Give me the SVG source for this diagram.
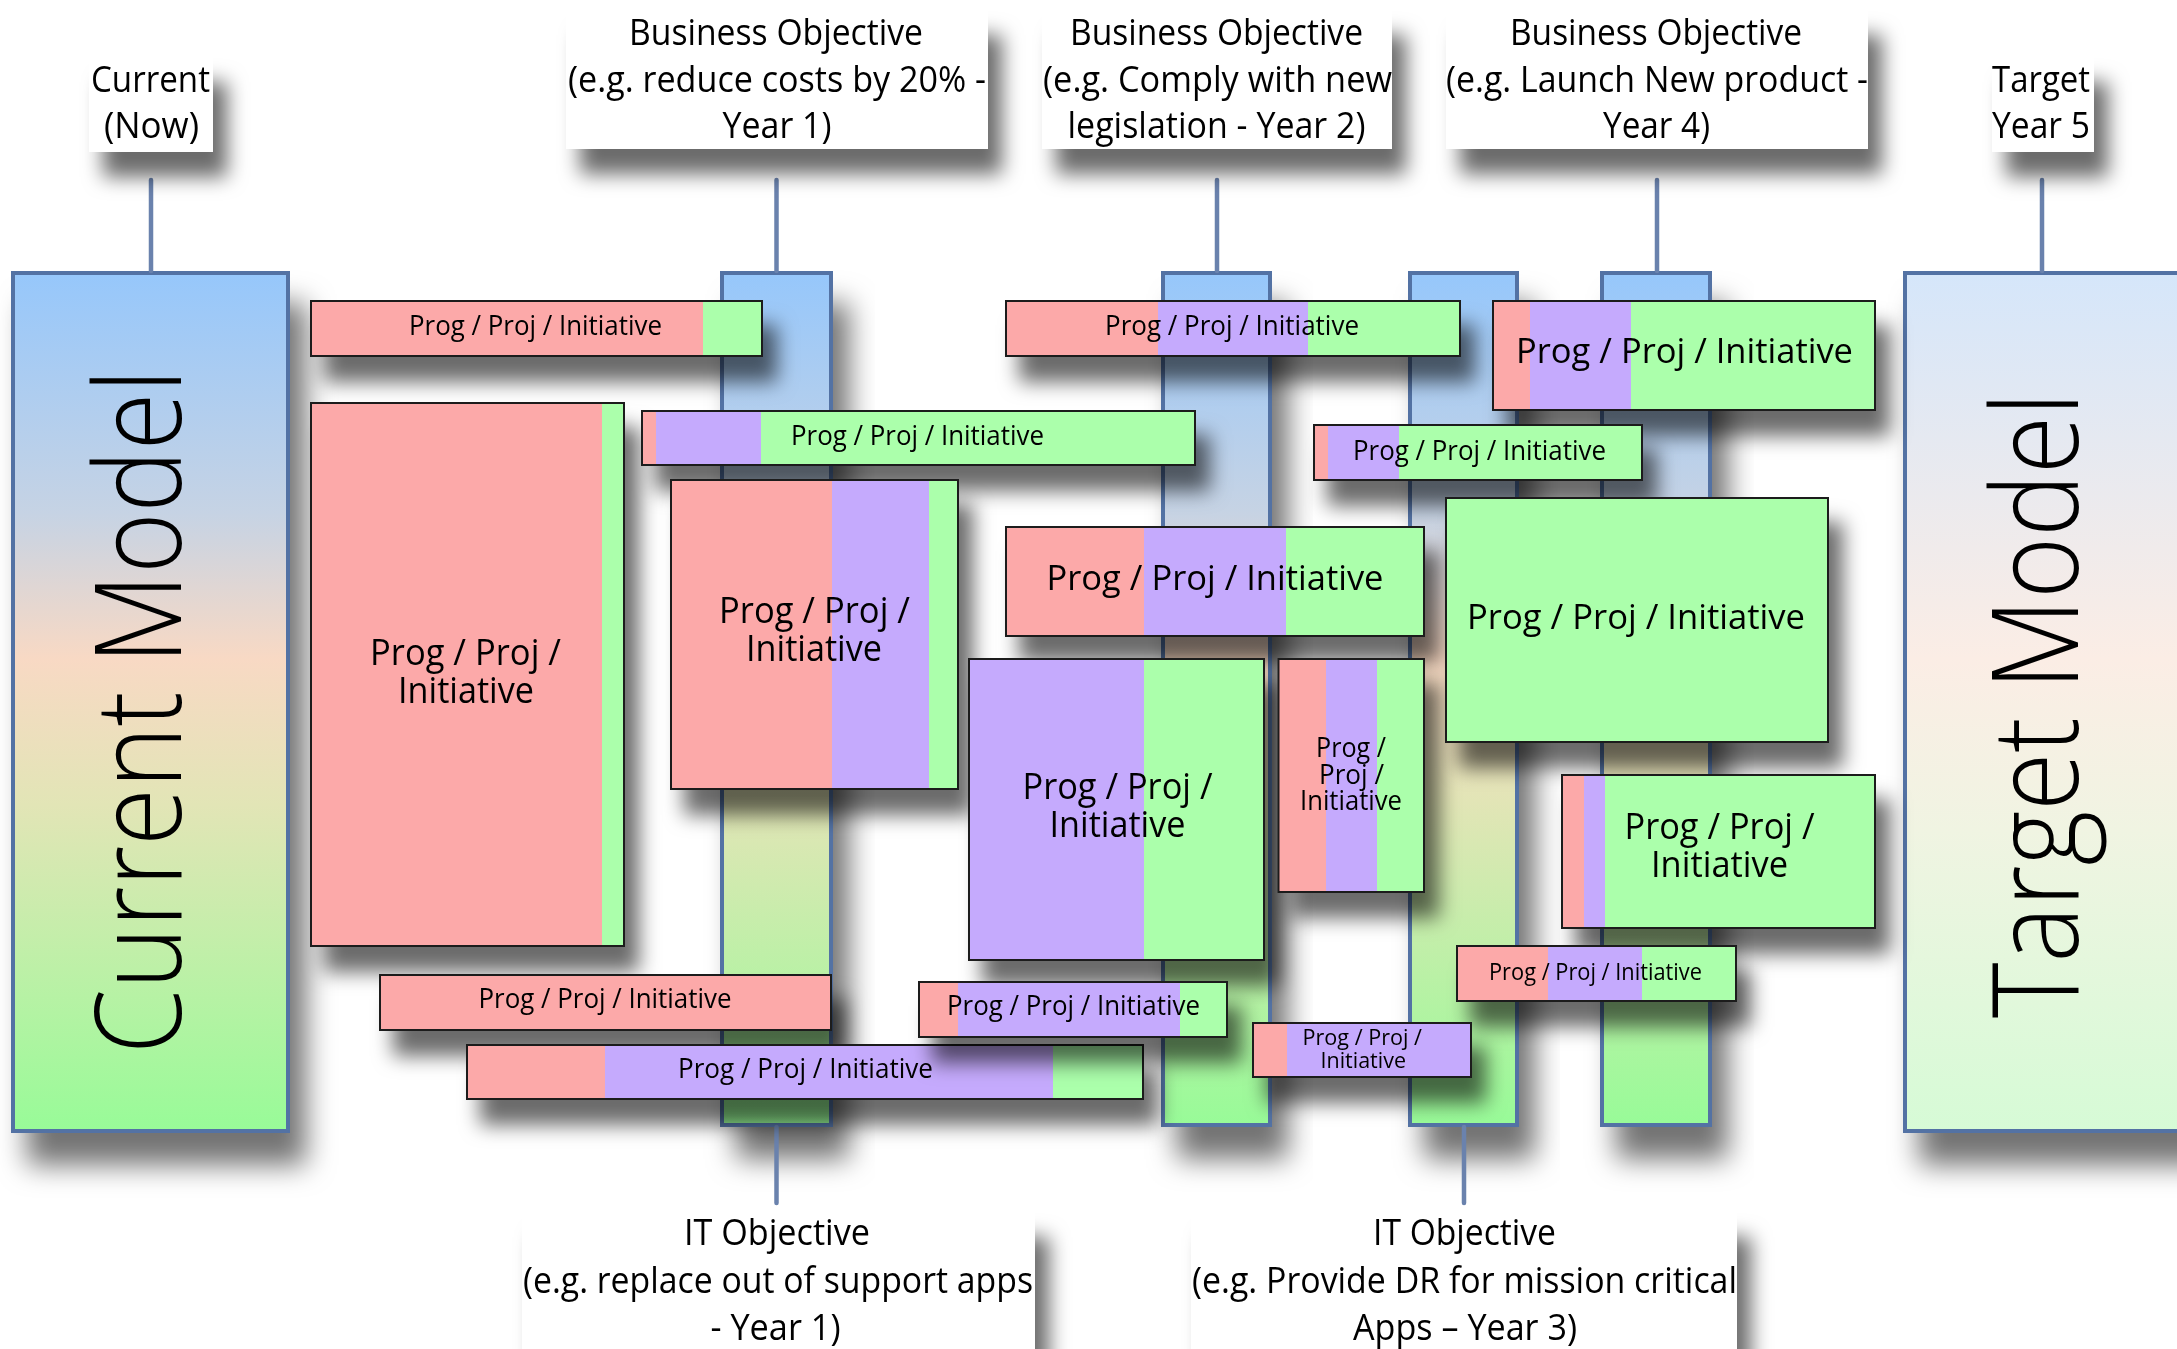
<svg xmlns="http://www.w3.org/2000/svg" width="2177" height="1349" viewBox="0 0 2177 1349">
  <defs>
    <style>
      text { font-family: "Open Sans", "Liberation Sans", sans-serif; fill: #000; }
      .obj { font-size: 37px; }
      .bar { font-size: 28px; }
      .big { font-size: 35px; }
      .two { font-size: 37px; }
      .model { font-size: 119px; font-weight: 300; }
      .pink { fill: #fca9a9; }
      .purple { fill: #c5aafd; }
      .green { fill: #abffab; }
      .edge { fill: none; stroke: #1e1e1e; stroke-width: 2; }
      .col { stroke: #5272a4; stroke-width: 4; }
      .label { fill: #ffffff; }
      .link { stroke: #6a82ad; stroke-width: 4.5; stroke-linecap: round; fill: none; }
    </style>
    <linearGradient id="gCurrent" x1="0" y1="0" x2="0" y2="1">
      <stop offset="0" stop-color="#96c7fb"/>
      <stop offset="0.28" stop-color="#c6d3e4"/>
      <stop offset="0.45" stop-color="#f8d9c4"/>
      <stop offset="0.62" stop-color="#e2e5b6"/>
      <stop offset="1" stop-color="#98fb98"/>
    </linearGradient>
    <linearGradient id="gTarget" x1="0" y1="0" x2="0" y2="1">
      <stop offset="0" stop-color="#d5e6fa"/>
      <stop offset="0.45" stop-color="#fbede5"/>
      <stop offset="0.65" stop-color="#f0f4e2"/>
      <stop offset="1" stop-color="#d6fbd6"/>
    </linearGradient>
    <filter id="shadow" x="-30%" y="-60%" width="170%" height="320%">
      <feDropShadow dx="14" dy="25" stdDeviation="10" flood-color="#000" flood-opacity="0.58"/>
    </filter>
    <filter id="shadowBig" x="-30%" y="-30%" width="170%" height="170%">
      <feDropShadow dx="16" dy="32" stdDeviation="14" flood-color="#000" flood-opacity="0.55"/>
    </filter>
  </defs>

  <rect width="2177" height="1349" fill="#ffffff"/>

  <!-- model boxes -->
  <g id="current-model" filter="url(#shadowBig)">
    <rect x="13" y="273" width="275" height="858" fill="url(#gCurrent)" class="col"/>
    <text class="model" transform="translate(181,1054) rotate(-90)" textLength="685" lengthAdjust="spacingAndGlyphs">Current Model</text>
  </g>
  <g id="target-model" filter="url(#shadowBig)">
    <rect x="1905" y="273" width="300" height="858" fill="url(#gTarget)" class="col"/>
    <text class="model" transform="translate(2078,1018) rotate(-90)" textLength="626" lengthAdjust="spacingAndGlyphs">Target Model</text>
  </g>

  <!-- objective columns -->
  <g id="column-year1" filter="url(#shadowBig)"><rect x="722" y="273" width="109" height="852" fill="url(#gCurrent)" class="col"/></g>
  <g id="column-year2" filter="url(#shadowBig)"><rect x="1163" y="273" width="107" height="852" fill="url(#gCurrent)" class="col"/></g>
  <g id="column-year3" filter="url(#shadowBig)"><rect x="1410" y="273" width="107" height="852" fill="url(#gCurrent)" class="col"/></g>
  <g id="column-year4" filter="url(#shadowBig)"><rect x="1602" y="273" width="108" height="852" fill="url(#gCurrent)" class="col"/></g>

  <!-- connectors -->
  <g id="connectors">
    <line class="link" x1="151" y1="180" x2="151" y2="271"/>
    <line class="link" x1="776.5" y1="180" x2="776.5" y2="271"/>
    <line class="link" x1="1217" y1="180" x2="1217" y2="271"/>
    <line class="link" x1="1657" y1="180" x2="1657" y2="271"/>
    <line class="link" x1="2042" y1="180" x2="2042" y2="271"/>
    <line class="link" x1="776.5" y1="1127" x2="776.5" y2="1203"/>
    <line class="link" x1="1464" y1="1127" x2="1464" y2="1203"/>
  </g>

  <!-- milestone labels -->
  <g id="label-current" filter="url(#shadow)">
    <rect class="label" x="89" y="57" width="124" height="95"/>
    <text class="obj"><tspan x="91" y="92" textLength="119" lengthAdjust="spacingAndGlyphs">Current</tspan><tspan x="104" y="138" textLength="95" lengthAdjust="spacingAndGlyphs">(Now)</tspan></text>
  </g>
  <g id="label-business-1" filter="url(#shadow)">
    <rect class="label" x="566" y="10" width="422" height="139"/>
    <text class="obj"><tspan x="629" y="45" textLength="294" lengthAdjust="spacingAndGlyphs">Business Objective</tspan><tspan x="568" y="92" textLength="418" lengthAdjust="spacingAndGlyphs">(e.g. reduce costs by 20% -</tspan><tspan x="722.5" y="138" textLength="109" lengthAdjust="spacingAndGlyphs">Year 1)</tspan></text>
  </g>
  <g id="label-business-2" filter="url(#shadow)">
    <rect class="label" x="1042" y="10" width="350" height="139"/>
    <text class="obj"><tspan x="1070" y="45" textLength="293" lengthAdjust="spacingAndGlyphs">Business Objective</tspan><tspan x="1043" y="92" textLength="349" lengthAdjust="spacingAndGlyphs">(e.g. Comply with new</tspan><tspan x="1067.5" y="138" textLength="298" lengthAdjust="spacingAndGlyphs">legislation - Year 2)</tspan></text>
  </g>
  <g id="label-business-4" filter="url(#shadow)">
    <rect class="label" x="1446" y="10" width="422" height="139"/>
    <text class="obj"><tspan x="1510" y="45" textLength="292" lengthAdjust="spacingAndGlyphs">Business Objective</tspan><tspan x="1446" y="92" textLength="422" lengthAdjust="spacingAndGlyphs">(e.g. Launch New product -</tspan><tspan x="1603" y="138" textLength="107" lengthAdjust="spacingAndGlyphs">Year 4)</tspan></text>
  </g>
  <g id="label-target" filter="url(#shadow)">
    <rect class="label" x="1992" y="57" width="102" height="95"/>
    <text class="obj"><tspan x="1992" y="92" textLength="98" lengthAdjust="spacingAndGlyphs">Target</tspan><tspan x="1992" y="138" textLength="98" lengthAdjust="spacingAndGlyphs">Year 5</tspan></text>
  </g>
  <g id="label-it-1" filter="url(#shadow)">
    <rect class="label" x="522" y="1212" width="513" height="160"/>
    <text class="obj"><tspan x="684" y="1245" textLength="186" lengthAdjust="spacingAndGlyphs">IT Objective</tspan><tspan x="523" y="1293" textLength="510" lengthAdjust="spacingAndGlyphs">(e.g. replace out of support apps</tspan><tspan x="710.5" y="1340" textLength="130" lengthAdjust="spacingAndGlyphs">- Year 1)</tspan></text>
  </g>
  <g id="label-it-3" filter="url(#shadow)">
    <rect class="label" x="1191" y="1212" width="546" height="160"/>
    <text class="obj"><tspan x="1373" y="1245" textLength="183" lengthAdjust="spacingAndGlyphs">IT Objective</tspan><tspan x="1192" y="1293" textLength="545" lengthAdjust="spacingAndGlyphs">(e.g. Provide DR for mission critical</tspan><tspan x="1353" y="1340" textLength="224" lengthAdjust="spacingAndGlyphs">Apps – Year 3)</tspan></text>
  </g>

  <!-- programmes / projects / initiatives -->
  <g id="init-01" filter="url(#shadow)">
    <rect class="pink" x="311" y="301" width="392" height="55"/>
    <rect class="green" x="703" y="301" width="59" height="55"/>
    <rect class="edge" x="311" y="301" width="451" height="55"/>
    <text class="bar" x="409" y="335" textLength="253" lengthAdjust="spacingAndGlyphs">Prog / Proj / Initiative</text>
  </g>
  <g id="init-02" filter="url(#shadow)">
    <rect class="pink" x="311" y="403" width="291" height="543"/>
    <rect class="green" x="602" y="403" width="22" height="543"/>
    <rect class="edge" x="311" y="403" width="313" height="543"/>
    <text class="two"><tspan x="370" y="665" textLength="191" lengthAdjust="spacingAndGlyphs">Prog / Proj /</tspan><tspan x="398" y="703" textLength="136" lengthAdjust="spacingAndGlyphs">Initiative</tspan></text>
  </g>
  <g id="init-03" filter="url(#shadow)">
    <rect class="pink" x="642" y="411" width="14" height="54"/>
    <rect class="purple" x="656" y="411" width="105" height="54"/>
    <rect class="green" x="761" y="411" width="434" height="54"/>
    <rect class="edge" x="642" y="411" width="553" height="54"/>
    <text class="bar" x="791" y="445" textLength="253" lengthAdjust="spacingAndGlyphs">Prog / Proj / Initiative</text>
  </g>
  <g id="init-04" filter="url(#shadow)">
    <rect class="pink" x="671" y="480" width="161" height="309"/>
    <rect class="purple" x="832" y="480" width="97" height="309"/>
    <rect class="green" x="929" y="480" width="29" height="309"/>
    <rect class="edge" x="671" y="480" width="287" height="309"/>
    <text class="two"><tspan x="719" y="623" textLength="191" lengthAdjust="spacingAndGlyphs">Prog / Proj /</tspan><tspan x="746" y="661" textLength="136" lengthAdjust="spacingAndGlyphs">Initiative</tspan></text>
  </g>
  <g id="init-05" filter="url(#shadow)">
    <rect class="pink" x="1006" y="301" width="152" height="55"/>
    <rect class="purple" x="1158" y="301" width="150" height="55"/>
    <rect class="green" x="1308" y="301" width="152" height="55"/>
    <rect class="edge" x="1006" y="301" width="454" height="55"/>
    <text class="bar" x="1105" y="335" textLength="254" lengthAdjust="spacingAndGlyphs">Prog / Proj / Initiative</text>
  </g>
  <g id="init-06" filter="url(#shadow)">
    <rect class="pink" x="1006" y="527" width="138" height="109"/>
    <rect class="purple" x="1144" y="527" width="142" height="109"/>
    <rect class="green" x="1286" y="527" width="138" height="109"/>
    <rect class="edge" x="1006" y="527" width="418" height="109"/>
    <text class="big" x="1046.5" y="590" textLength="337" lengthAdjust="spacingAndGlyphs">Prog / Proj / Initiative</text>
  </g>
  <g id="init-07" filter="url(#shadow)">
    <rect class="purple" x="969" y="659" width="175" height="301"/>
    <rect class="green" x="1144" y="659" width="120" height="301"/>
    <rect class="edge" x="969" y="659" width="295" height="301"/>
    <text class="two"><tspan x="1022.5" y="799" textLength="190" lengthAdjust="spacingAndGlyphs">Prog / Proj /</tspan><tspan x="1049.5" y="837" textLength="136" lengthAdjust="spacingAndGlyphs">Initiative</tspan></text>
  </g>
  <g id="init-08" filter="url(#shadow)">
    <rect class="pink" x="1278.5" y="659" width="47.5" height="233"/>
    <rect class="purple" x="1326" y="659" width="51" height="233"/>
    <rect class="green" x="1377" y="659" width="47" height="233"/>
    <rect class="edge" x="1278.5" y="659" width="145.5" height="233"/>
    <text class="bar"><tspan x="1316" y="757" textLength="70" lengthAdjust="spacingAndGlyphs">Prog /</tspan><tspan x="1319" y="784" textLength="65" lengthAdjust="spacingAndGlyphs">Proj /</tspan><tspan x="1300" y="810" textLength="102" lengthAdjust="spacingAndGlyphs">Initiative</tspan></text>
  </g>
  <g id="init-09" filter="url(#shadow)">
    <rect class="pink" x="1493" y="301" width="37" height="109"/>
    <rect class="purple" x="1530" y="301" width="101" height="109"/>
    <rect class="green" x="1631" y="301" width="244" height="109"/>
    <rect class="edge" x="1493" y="301" width="382" height="109"/>
    <text class="big" x="1516" y="363" textLength="337" lengthAdjust="spacingAndGlyphs">Prog / Proj / Initiative</text>
  </g>
  <g id="init-10" filter="url(#shadow)">
    <rect class="pink" x="1314" y="425" width="14" height="55"/>
    <rect class="purple" x="1328" y="425" width="71" height="55"/>
    <rect class="green" x="1399" y="425" width="243" height="55"/>
    <rect class="edge" x="1314" y="425" width="328" height="55"/>
    <text class="bar" x="1353" y="460" textLength="253" lengthAdjust="spacingAndGlyphs">Prog / Proj / Initiative</text>
  </g>
  <g id="init-11" filter="url(#shadow)">
    <rect class="green" x="1446" y="498" width="382" height="244"/>
    <rect class="edge" x="1446" y="498" width="382" height="244"/>
    <text class="big" x="1467" y="629" textLength="338" lengthAdjust="spacingAndGlyphs">Prog / Proj / Initiative</text>
  </g>
  <g id="init-12" filter="url(#shadow)">
    <rect class="pink" x="1562" y="775" width="22" height="153"/>
    <rect class="purple" x="1584" y="775" width="21" height="153"/>
    <rect class="green" x="1605" y="775" width="270" height="153"/>
    <rect class="edge" x="1562" y="775" width="313" height="153"/>
    <text class="two"><tspan x="1624.5" y="839" textLength="190" lengthAdjust="spacingAndGlyphs">Prog / Proj /</tspan><tspan x="1651" y="877" textLength="137" lengthAdjust="spacingAndGlyphs">Initiative</tspan></text>
  </g>
  <g id="init-13" filter="url(#shadow)">
    <rect class="pink" x="1457" y="946" width="91" height="55"/>
    <rect class="purple" x="1548" y="946" width="94" height="55"/>
    <rect class="green" x="1642" y="946" width="94" height="55"/>
    <rect class="edge" x="1457" y="946" width="279" height="55"/>
    <text class="bar" x="1489" y="980" style="font-size:24px" textLength="213" lengthAdjust="spacingAndGlyphs">Prog / Proj / Initiative</text>
  </g>
  <g id="init-14" filter="url(#shadow)">
    <rect class="pink" x="380" y="975" width="451" height="55"/>
    <rect class="edge" x="380" y="975" width="451" height="55"/>
    <text class="bar" x="478.5" y="1008" textLength="253" lengthAdjust="spacingAndGlyphs">Prog / Proj / Initiative</text>
  </g>
  <g id="init-15" filter="url(#shadow)">
    <rect class="pink" x="467" y="1045" width="138" height="54"/>
    <rect class="purple" x="605" y="1045" width="448" height="54"/>
    <rect class="green" x="1053" y="1045" width="90" height="54"/>
    <rect class="edge" x="467" y="1045" width="676" height="54"/>
    <text class="bar" x="678" y="1078" textLength="255" lengthAdjust="spacingAndGlyphs">Prog / Proj / Initiative</text>
  </g>
  <g id="init-16" filter="url(#shadow)">
    <rect class="pink" x="919" y="982" width="39" height="55"/>
    <rect class="purple" x="958" y="982" width="222" height="55"/>
    <rect class="green" x="1180" y="982" width="47" height="55"/>
    <rect class="edge" x="919" y="982" width="308" height="55"/>
    <text class="bar" x="947" y="1015" textLength="253" lengthAdjust="spacingAndGlyphs">Prog / Proj / Initiative</text>
  </g>
  <g id="init-17" filter="url(#shadow)">
    <rect class="pink" x="1253" y="1023" width="34" height="54"/>
    <rect class="purple" x="1287" y="1023" width="184" height="54"/>
    <rect class="edge" x="1253" y="1023" width="218" height="54"/>
    <text class="bar" style="font-size:22px"><tspan x="1302.5" y="1045" textLength="119.5" lengthAdjust="spacingAndGlyphs">Prog / Proj /</tspan><tspan x="1320.5" y="1068" textLength="85.5" lengthAdjust="spacingAndGlyphs">Initiative</tspan></text>
  </g>
</svg>
